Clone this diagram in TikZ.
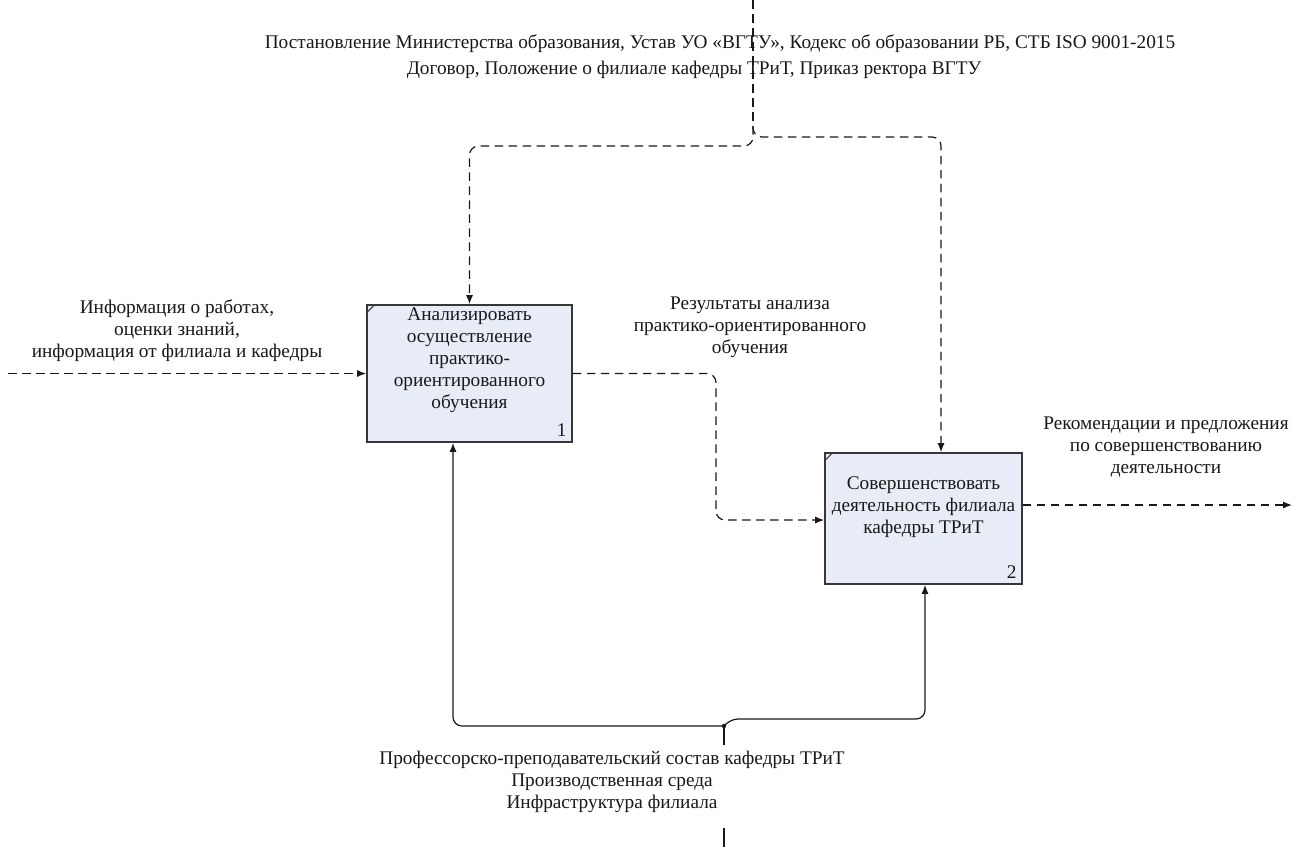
\documentclass[tikz,border=0pt]{standalone}
\usepackage{fontspec}
\setmainfont{Liberation Serif}
\usetikzlibrary{arrows.meta}
\definecolor{boxfill}{RGB}{232,236,246}
\definecolor{boxline}{RGB}{55,55,55}
\definecolor{ink}{RGB}{25,25,25}
\begin{document}
\begin{tikzpicture}[x=1pt,y=-1pt,
  box/.style={draw=boxline, line width=1.6pt, fill=boxfill, inner sep=0pt},
  lbl/.style={align=center, text=ink, font=\fontsize{19.3}{22}\selectfont, inner sep=0pt},
  toplbl/.style={align=center, text=ink, font=\fontsize{19.3}{22}\selectfont, inner sep=0pt},
  num/.style={text=ink, font=\fontsize{19.3}{20}\selectfont, inner sep=0pt},
  flow/.style={draw=ink, dash pattern=on 8.5pt off 5.5pt, line width=1.2pt, rounded corners=9pt},
  mech/.style={draw=ink, line width=1.2pt, rounded corners=9pt},
  tip/.style={-{Latex[length=9pt,width=7pt]}}
]
\useasboundingbox[fill=white] (0,0) rectangle (1297,847);

% boxes
\node[box, minimum width=205pt, minimum height=137pt] (b1) at (469.5,373.5) {};
\node[box, minimum width=197pt, minimum height=131pt] (b2) at (923.5,518.5) {};
\draw[boxline, line width=1pt] ([yshift=-9pt]b1.north west) -- ([xshift=9pt]b1.north west);
\draw[boxline, line width=1pt] ([yshift=-9pt]b2.north west) -- ([xshift=9pt]b2.north west);

\node[lbl] (t1) at (469.5,360) {Анализировать\\осуществление\\практико-\\ориентированного\\обучения};
\node[lbl] (t2) at (923.5,507) {Совершенствовать\\деятельность филиала\\кафедры ТРиТ};
\node[num, anchor=south east] (n1) at ([xshift=-6pt,yshift=6pt]b1.south east) {1};
\node[num, anchor=south east] (n2) at ([xshift=-6pt,yshift=6pt]b2.south east) {2};

% control labels
\node[toplbl] (c1) at (720,44) {Постановление Министерства образования, Устав УО «ВГТУ», Кодекс об образовании РБ, СТБ ISO 9001-2015};
\node[toplbl] (c2) at (694,70) {Договор, Положение о филиале кафедры ТРиТ, Приказ ректора ВГТУ};

% control arrows
\coordinate (ctop) at (753,0);
\coordinate (csplit) at (753,126);
\draw[flow] (ctop) -- (csplit);
\draw[flow, tip] (csplit) -- (753,146) -- (469.5,146) -- (b1.north);
\draw[flow, tip] (csplit) -- (753,137) -- (941,137) -- ([xshift=17.5pt]b2.north);

% input
\coordinate (inL) at (8,373.5);
\node[lbl] (il) at (177,331) {Информация о работах,\\оценки знаний,\\информация от филиала и кафедры};
\draw[flow, tip] (inL) -- (b1.west);

% between boxes
\node[lbl] (rl) at (750,327) {Результаты анализа\\практико-ориентированного\\обучения};
\draw[flow, tip] (b1.east) -- (716,373.5) -- (716,520) -- (b2.west |- 0,520);

% output
\coordinate (outR) at (1292,505);
\node[lbl] (ol) at (1166,447) {Рекомендации и предложения\\по совершенствованию\\деятельности};
\draw[flow, tip] (b2.east |- 0,505) -- (outR);

% mechanism
\node[lbl] (ml) at (612,782) {Профессорско-преподавательский состав кафедры ТРиТ\\Производственная среда\\Инфраструктура филиала};
\coordinate (mbot) at (724,847);
\coordinate (mj) at (724,726);
\draw[mech] (mbot) -- (724,828);
\draw[mech] (724,745) -- (mj);
\draw[mech, tip] (mj) -- (453,726) -- ([xshift=-16.5pt]b1.south);
\draw[mech, tip] (mj) -- (729,719) -- (925,719) -- (b2.south -| 925,0);
\fill[ink] (mj) circle (2.2pt);
\end{tikzpicture}
\end{document}
